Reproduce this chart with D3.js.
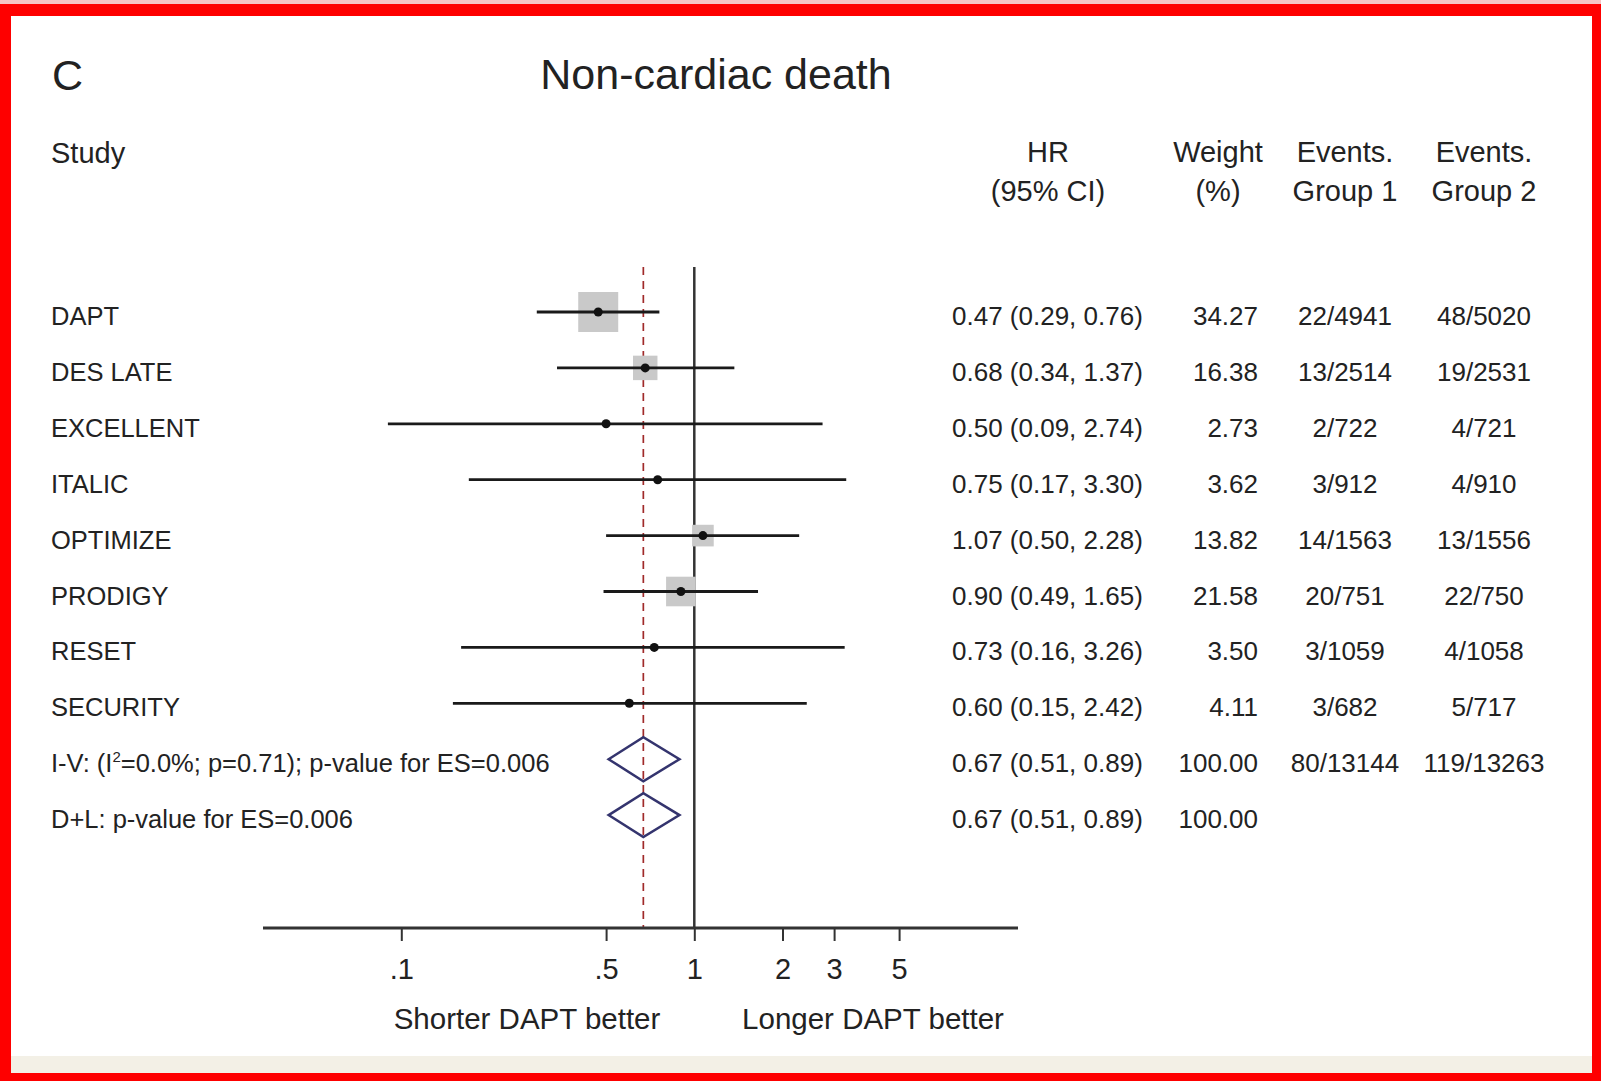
<!DOCTYPE html>
<html>
<head>
<meta charset="utf-8">
<script src="https://cdn.jsdelivr.net/npm/d3@7"></script>
<style>
  html, body { margin: 0; padding: 0; background: #fff; }
  svg { display: block; }
  text { font-family: "Liberation Sans", Arial, Helvetica, sans-serif; fill: #222; }
</style>
</head>
<body>
<svg id="chart" width="1601" height="1081"></svg>
<script>
// ---- Study-level data ----
const studies = ["DAPT", "DES LATE", "EXCELLENT", "ITALIC", "OPTIMIZE", "PRODIGY", "RESET", "SECURITY"];
const hr      = [0.47, 0.68, 0.50, 0.75, 1.07, 0.90, 0.73, 0.60];
const ciLow   = [0.29, 0.34, 0.09, 0.17, 0.50, 0.49, 0.16, 0.15];
const ciHigh  = [0.76, 1.37, 2.74, 3.30, 2.28, 1.65, 3.26, 2.42];
const weights = [34.27, 16.38, 2.73, 3.62, 13.82, 21.58, 3.50, 4.11];
const eventsGroup1 = ["22/4941", "13/2514", "2/722", "3/912", "14/1563", "20/751", "3/1059", "3/682"];
const eventsGroup2 = ["48/5020", "19/2531", "4/721", "4/910", "13/1556", "22/750", "4/1058", "5/717"];

// ---- Pooled estimates ----
const pooledMethods = ["I-V", "D+L"];
const pooledHR      = [0.67, 0.67];
const pooledLow     = [0.51, 0.51];
const pooledHigh    = [0.89, 0.89];
const pooledWeight  = [100.00, 100.00];
const pooledEvents1 = ["80/13144", ""];
const pooledEvents2 = ["119/13263", ""];

// ---- Axis ticks ----
const tickValues = [0.1, 0.5, 1, 2, 3, 5];
const tickLabels = [".1", ".5", "1", "2", "3", "5"];

const svg = d3.select("#chart");
const W = 1601, H = 1081;

// Frame
svg.append("rect").attr("x", 0).attr("y", 0).attr("width", W).attr("height", H).attr("fill", "#fe0000");
svg.append("rect").attr("x", 0).attr("y", 0).attr("width", W).attr("height", 4).attr("fill", "#f6c4c4");
svg.append("rect").attr("x", 11).attr("y", 16).attr("width", 1581).attr("height", 1057).attr("fill", "#f3f0e6");
svg.append("rect").attr("x", 11).attr("y", 16).attr("width", 1581).attr("height", 1040).attr("fill", "#ffffff");

// Scales
const x = d3.scaleLog().domain([0.1, 10]).range([401.3, 987.3]);
const rowY = i => 312 + 55.9 * i;
const plotTop = 267, axisY = 928;
const textDy = 13;
const fmt2 = d3.format(".2f");
const hrText = (v, l, h) => `${fmt2(v)} (${fmt2(l)}, ${fmt2(h)})`;
// Box side grows with the square root of the study weight
const boxSide = d3.scaleLinear().domain([1.2, Math.sqrt(34.27)]).range([0, 40]).clamp(true);

// Panel letter and title
svg.append("text").attr("x", 52).attr("y", 90).attr("font-size", 43).text("C");
svg.append("text").attr("x", 716).attr("y", 89).attr("font-size", 43).attr("text-anchor", "middle").text("Non-cardiac death");

// Column headers
const header = svg.append("g").attr("font-size", 29);
header.append("text").attr("x", 51).attr("y", 163).text("Study");
const hdrCols = [
  { x: 1048, l1: "HR", l2: "(95% CI)" },
  { x: 1218, l1: "Weight", l2: "(%)" },
  { x: 1345, l1: "Events.", l2: "Group 1" },
  { x: 1484, l1: "Events.", l2: "Group 2" }
];
hdrCols.forEach(c => {
  header.append("text").attr("x", c.x).attr("y", 162).attr("text-anchor", "middle").text(c.l1);
  header.append("text").attr("x", c.x).attr("y", 201).attr("text-anchor", "middle").text(c.l2);
});

// Reference lines
svg.append("line")
  .attr("x1", x(1)).attr("x2", x(1)).attr("y1", plotTop).attr("y2", axisY)
  .attr("stroke", "#333").attr("stroke-width", 2.5);
svg.append("line")
  .attr("x1", x(pooledHR[0])).attr("x2", x(pooledHR[0])).attr("y1", plotTop).attr("y2", axisY)
  .attr("stroke", "#a02a2a").attr("stroke-width", 1.7).attr("stroke-dasharray", "8,6");

// Study rows
const rows = svg.append("g");
studies.forEach((name, i) => {
  const y = rowY(i);
  const s = boxSide(Math.sqrt(weights[i]));
  rows.append("rect")
    .attr("x", x(hr[i]) - s / 2).attr("y", y - s / 2)
    .attr("width", s).attr("height", s)
    .attr("fill", "#c9c9c9");
  rows.append("line")
    .attr("x1", x(ciLow[i])).attr("x2", x(ciHigh[i]))
    .attr("y1", y).attr("y2", y)
    .attr("stroke", "#1a1a1a").attr("stroke-width", 2.8);
  rows.append("circle").attr("cx", x(hr[i])).attr("cy", y).attr("r", 4.5).attr("fill", "#111");

  const t = rows.append("g").attr("font-size", 25.5);
  t.append("text").attr("x", 51).attr("y", y + textDy).text(name);
  t.append("text").attr("x", 952).attr("y", y + textDy).attr("font-size", 26).text(hrText(hr[i], ciLow[i], ciHigh[i]));
  t.append("text").attr("x", 1258).attr("y", y + textDy).attr("font-size", 26).attr("text-anchor", "end").text(fmt2(weights[i]));
  t.append("text").attr("x", 1345).attr("y", y + textDy).attr("font-size", 26).attr("text-anchor", "middle").text(eventsGroup1[i]);
  t.append("text").attr("x", 1484).attr("y", y + textDy).attr("font-size", 26).attr("text-anchor", "middle").text(eventsGroup2[i]);
});

// Pooled rows
const pooled = svg.append("g");
pooledMethods.forEach((m, j) => {
  const y = rowY(studies.length + j);
  const d = [[x(pooledLow[j]), y], [x(pooledHR[j]), y - 22], [x(pooledHigh[j]), y], [x(pooledHR[j]), y + 22]];
  pooled.append("path")
    .attr("d", d3.line()(d) + "Z")
    .attr("fill", "none").attr("stroke", "#34346e").attr("stroke-width", 2.5);

  const lbl = pooled.append("text").attr("x", 51).attr("y", y + textDy).attr("font-size", 25.5);
  if (m === "I-V") {
    lbl.append("tspan").text("I-V: (I");
    lbl.append("tspan").attr("font-size", 15).attr("dy", -10).text("2");
    lbl.append("tspan").attr("dy", 10).text("=0.0%; p=0.71); p-value for ES=0.006");
  } else {
    lbl.text("D+L: p-value for ES=0.006");
  }
  pooled.append("text").attr("x", 952).attr("y", y + textDy).attr("font-size", 26).text(hrText(pooledHR[j], pooledLow[j], pooledHigh[j]));
  pooled.append("text").attr("x", 1258).attr("y", y + textDy).attr("font-size", 26).attr("text-anchor", "end").text(fmt2(pooledWeight[j]));
  pooled.append("text").attr("x", 1345).attr("y", y + textDy).attr("font-size", 26).attr("text-anchor", "middle").text(pooledEvents1[j]);
  pooled.append("text").attr("x", 1484).attr("y", y + textDy).attr("font-size", 26).attr("text-anchor", "middle").text(pooledEvents2[j]);
});

// X axis
const axisG = svg.append("g").attr("transform", `translate(0,${axisY})`)
  .call(d3.axisBottom(x).tickValues(tickValues)
    .tickFormat((d, i) => tickLabels[i]).tickSize(13).tickPadding(17).tickSizeOuter(0));
axisG.select(".domain").remove();
axisG.selectAll(".tick line").attr("stroke", "#333").attr("stroke-width", 2);
axisG.selectAll(".tick text")
  .attr("font-size", 29).attr("fill", "#222")
  .attr("font-family", "\"Liberation Sans\", Arial, Helvetica, sans-serif");
svg.append("line")
  .attr("x1", 263).attr("x2", 1018).attr("y1", axisY).attr("y2", axisY)
  .attr("stroke", "#333").attr("stroke-width", 2.8);

// Direction labels
svg.append("text").attr("x", 527).attr("y", 1029).attr("font-size", 29.5).attr("text-anchor", "middle").text("Shorter DAPT better");
svg.append("text").attr("x", 873).attr("y", 1029).attr("font-size", 29.5).attr("text-anchor", "middle").text("Longer DAPT better");
</script>
</body>
</html>
